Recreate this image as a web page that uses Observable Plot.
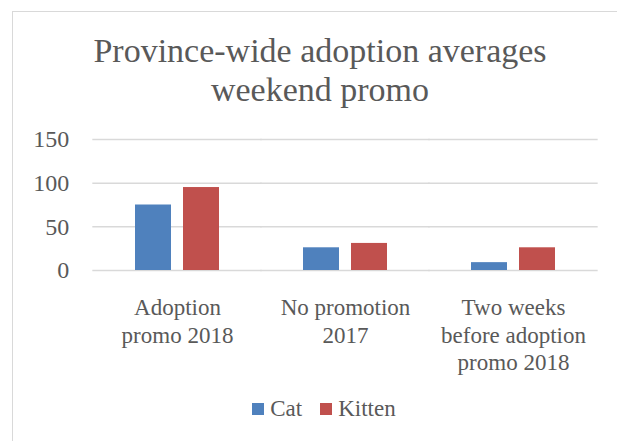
<!DOCTYPE html>
<html><head><meta charset="utf-8">
<script src="https://cdn.jsdelivr.net/npm/d3@7"></script>
<script src="https://cdn.jsdelivr.net/npm/@observablehq/plot@0.6"></script>
<style>
html,body{margin:0;padding:0;background:#fff;}
#chart{position:relative;width:617px;height:441px;overflow:hidden;font-family:"Liberation Serif",serif;color:#595959;}
#frame{position:absolute;left:12px;top:11px;width:700px;height:600px;border:1.5px solid #d9d9d9;box-sizing:border-box;}
#title{position:absolute;left:0;width:640px;top:31px;text-align:center;font-size:34px;line-height:39px;font-family:"Liberation Serif",serif;}
#plot{position:absolute;left:0;top:120px;}
#plot svg text{font-family:"Liberation Serif",serif !important;}
#legend{position:absolute;left:0;width:648px;top:395px;height:28px;display:flex;justify-content:center;align-items:center;font-size:23px;font-family:"Liberation Serif",serif;}
.item{display:flex;align-items:center;margin:0 9px;}
.sw{width:12px;height:12px;margin-right:6px;}
</style>
</head><body>
<div id="chart">
  <div id="frame"></div>
  <div id="title">Province-wide adoption averages<br>weekend promo</div>
  <div id="plot"></div>
  <div id="legend"></div>
</div>
<script>
const categories = ["Adoption promo 2018", "No promotion 2017", "Two weeks before adoption promo 2018"];
const categoryLabels = ["Adoption\npromo 2018", "No promotion\n2017", "Two weeks\nbefore adoption\npromo 2018"];
const series = ["Cat", "Kitten"];
const catValues = [75, 26, 9];
const kittenValues = [95, 31, 26];
const colors = ["#4F81BD", "#C0504D"];
const yTicks = [0, 50, 100, 150];

const rows = [];
categories.forEach((c, i) => {
  rows.push({category: c, series: "Cat", value: catValues[i]});
  rows.push({category: c, series: "Kitten", value: kittenValues[i]});
});
const labelOf = new Map(categories.map((c, i) => [c, categoryLabels[i]]));

const W = 617, ML = 92, MR = 19;
const fxPadInner = 0.5, fxPadOuter = 0.25;
const step = (W - ML - MR) / (categories.length - fxPadInner + 2 * fxPadOuter);
const halfGap = step * fxPadInner / 2 + 0.5;
const outerOffset = step * fxPadOuter;

const chart = Plot.plot({
  width: W,
  height: 260,
  marginLeft: ML,
  marginRight: MR,
  marginTop: 19,
  marginBottom: 110,
  style: {fontFamily: "'Liberation Serif', serif", color: "#595959", background: "transparent"},
  fx: {domain: categories, paddingInner: fxPadInner, paddingOuter: fxPadOuter, label: null},
  x: {domain: series, paddingInner: 0.25, paddingOuter: 0, axis: null},
  y: {domain: [0, 150], label: null},
  color: {domain: series, range: colors},
  marks: [
    Plot.ruleY(yTicks, {stroke: "#d9d9d9", strokeWidth: 1.5, insetLeft: -halfGap, insetRight: -halfGap}),
    Plot.axisY(yTicks, {tickSize: 0, tickPadding: 24 + outerOffset, fontSize: 24, fill: "#595959", label: null}),
    Plot.axisFx({anchor: "bottom", tickSize: 0, tickPadding: 25, fontSize: 23, lineHeight: 1.2, fill: "#595959", tickFormat: d => labelOf.get(d), label: null}),
    Plot.barY(rows, {fx: "category", x: "series", y: "value", fill: "series"})
  ]
});
document.getElementById("plot").appendChild(chart);

const legend = document.getElementById("legend");
series.forEach((s, i) => {
  const it = document.createElement("div");
  it.className = "item";
  const sw = document.createElement("div");
  sw.className = "sw";
  sw.style.background = colors[i];
  const t = document.createElement("span");
  t.textContent = s;
  it.appendChild(sw); it.appendChild(t);
  legend.appendChild(it);
});
</script>
</body></html>
